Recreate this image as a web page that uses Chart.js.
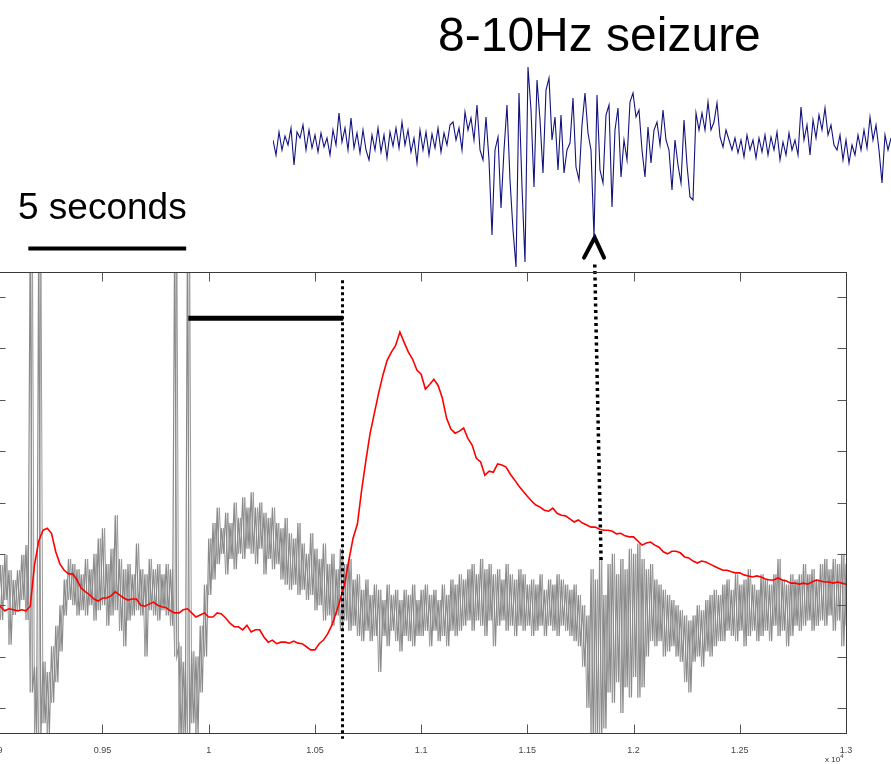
<!DOCTYPE html>
<html>
<head>
<meta charset="utf-8">
<script src="https://cdn.jsdelivr.net/npm/chart.js@4.4.0/dist/chart.umd.min.js"></script>
<style>
  body { margin: 0; width: 891px; height: 764px; overflow: hidden; background: #fff; position: relative; font-family: "Liberation Sans", Arial, sans-serif; }
  #lfpChart { position: absolute; left: -14px; top: 0; }
  #eegChart { position: absolute; left: 273px; top: 55px; }
  .label { position: absolute; color: #000; white-space: nowrap; }
</style>
</head>
<body>
<canvas id="lfpChart" width="905" height="764"></canvas>
<canvas id="eegChart" width="618" height="220"></canvas>
<div class="label" style="left:438px; top:11px; font-size:48px; line-height:48px;">8-10Hz seizure</div>
<div class="label" style="left:18px; top:188px; font-size:37px; line-height:37px;">5 seconds</div>
<div class="label" style="left:825px; top:751px; font-size:8px; line-height:10px; color:#333;">x 10<sup style="font-size:6px">4</sup></div>
<script>
// Axis ticks (x in units of 10^4 samples)
const xTickValues = [0.9, 0.95, 1, 1.05, 1.1, 1.15, 1.2, 1.25, 1.3];
const xTickLabels = ['0.9', '0.95', '1', '1.05', '1.1', '1.15', '1.2', '1.25', '1.3'];
const yTickValues = [0, 1, 2, 3, 4, 5, 6, 7, 8];

// Sampling of the two lower traces
const sampleStart = 0.9;
const sampleStep = 0.002;

// Gray LFP trace: upper and lower extent of the noise per sample
const grayHigh = [
  2.88, 2.78, 2.98, 2.68, 2.49, 2.68, 2.98, 3.17, 9.5, 0.8,
  9.5, 0.9, 0.7, 1.2, 1.6, 2.0, 2.5, 2.9, 2.8, 2.7,
  2.6, 2.9, 2.7, 3.0, 3.3, 3.5, 2.8, 3.1, 3.75, 2.9,
  2.7, 2.8, 2.6, 3.2, 2.7, 2.6, 2.9, 2.7, 2.8, 2.6,
  2.8, 2.7, 9.5, 1.2, 0.9, 9.5, 1.1, 1.0, 1.6, 2.4,
  3.3, 3.6, 3.9, 3.5, 3.8, 3.6, 4.0, 3.7, 4.1, 3.9,
  4.2, 3.9, 4.0, 3.8, 3.7, 3.9, 3.6, 3.5, 3.7, 3.4,
  3.3, 3.6, 3.2, 3.0, 3.4, 3.1, 2.9, 3.2, 2.8, 3.0,
  2.7, 3.1, 2.8, 2.9, 2.5, 2.6, 2.3, 2.5, 2.2, 2.4,
  2.3, 2.1, 2.4, 2.2, 2.3, 2.1, 2.3, 2.2, 2.4, 2.1,
  2.3, 2.4, 2.2, 2.3, 2.1, 2.4, 2.2, 2.5, 2.4, 2.6,
  2.5, 2.7, 2.8, 2.6, 2.9, 2.7, 2.8, 2.6, 2.7, 2.5,
  2.8, 2.6, 2.5, 2.7, 2.6, 2.4, 2.5, 2.4, 2.6, 2.3,
  2.5, 2.4, 2.6, 2.5, 2.4, 2.3, 2.4, 2.2, 2.0, 1.8,
  2.7, 2.5, 2.9, 2.2, 2.8, 3.0, 2.6, 2.9, 2.7, 3.1,
  3.0, 3.2, 2.9, 2.7, 2.8, 2.5, 2.4, 2.3, 2.2, 2.1,
  2.0, 1.9, 1.8, 1.7, 1.8, 2.0, 1.9, 2.1, 2.2, 2.3,
  2.2, 2.4, 2.5, 2.3, 2.6, 2.4, 2.5, 2.7, 2.4, 2.3,
  2.6, 2.5, 2.4, 2.6, 2.9, 2.5, 2.4, 2.6, 2.5, 2.6,
  2.8, 2.6, 2.7, 2.5, 2.8, 2.9, 2.7, 2.9, 2.8, 3.0,
  2.8
];
const grayLow = [
  1.91, 1.71, 2.10, 1.23, 1.81, 1.91, 2.10, 1.71, 0.3, -0.6,
  -0.6, -0.3, -0.5, 0.1, 0.5, 1.1, 1.8, 2.1, 2.0, 1.8,
  1.9, 1.8, 2.0, 1.7, 1.9, 2.0, 1.6, 1.8, 1.9, 1.5,
  1.2, 1.7, 1.8, 1.9, 1.8, 1.0, 1.9, 1.8, 1.7, 1.9,
  1.8, 1.6, 1.0, -0.6, -0.6, -0.6, -0.3, -0.5, 0.3, 1.0,
  2.2, 2.5, 2.8, 3.0, 2.6, 2.9, 2.7, 3.0, 2.9, 3.1,
  3.0, 2.8, 3.1, 2.6, 2.9, 2.7, 2.8, 2.5, 2.4, 2.3,
  2.4, 2.2, 2.3, 2.1, 2.2, 1.9, 2.0, 1.7, 1.8, 1.6,
  1.8, 1.5, 1.7, 1.5, 1.6, 1.4, 1.3, 1.5, 1.3, 1.4,
  0.7, 1.4, 1.2, 1.5, 1.3, 1.1, 1.4, 1.3, 1.2, 1.4,
  1.4, 1.5, 1.2, 1.5, 1.3, 1.4, 1.2, 1.5, 1.4, 1.5,
  1.6, 1.7, 1.5, 1.7, 1.6, 1.4, 1.7, 1.2, 1.6, 1.7,
  1.5, 1.6, 1.4, 1.6, 1.5, 1.6, 1.4, 1.5, 1.6, 1.4,
  1.6, 1.5, 1.4, 1.6, 1.5, 1.4, 1.3, 1.2, 0.8, 0.0,
  -0.6, -0.6, -0.6, -0.4, 0.3, 0.1, 0.5, -0.1, 0.4, 0.2,
  0.6, 0.2, 0.4, 1.0, 1.3, 1.2, 1.3, 1.0, 1.1, 1.2,
  1.0, 0.9, 0.5, 0.3, 0.9, 1.0, 0.8, 1.1, 1.0, 1.2,
  1.3, 1.3, 1.5, 1.4, 1.3, 1.5, 1.2, 1.4, 1.5, 1.3,
  1.4, 1.5, 1.3, 1.6, 1.4, 1.5, 1.2, 1.4, 1.6, 1.5,
  1.6, 1.7, 1.5, 1.6, 1.7, 1.6, 1.8, 1.5, 1.7, 1.2,
  1.6
];

// Red trace (same sampling)
const redTrace = [
  1.97, 1.97, 1.89, 1.93, 1.91, 1.89, 1.91, 1.89, 1.98, 2.78,
  3.25, 3.46, 3.50, 3.40, 3.04, 2.80, 2.68, 2.61, 2.61, 2.49,
  2.33, 2.26, 2.20, 2.12, 2.08, 2.14, 2.14, 2.18, 2.26, 2.20,
  2.14, 2.10, 2.12, 2.12, 2.00, 1.98, 2.02, 2.06, 2.00, 1.97,
  1.95, 1.89, 1.85, 1.85, 1.91, 1.93, 1.85, 1.77, 1.81, 1.85,
  1.77, 1.77, 1.85, 1.83, 1.75, 1.65, 1.58, 1.58, 1.52, 1.61,
  1.48, 1.52, 1.52, 1.38, 1.28, 1.32, 1.25, 1.28, 1.28, 1.26,
  1.30, 1.26, 1.25, 1.19, 1.13, 1.13, 1.25, 1.32, 1.44, 1.61,
  1.85, 2.12, 2.41, 2.88, 3.31, 3.58, 4.24, 4.82, 5.35, 5.74,
  6.13, 6.48, 6.77, 6.93, 7.06, 7.32, 7.12, 6.93, 6.79, 6.58,
  6.50, 6.21, 6.30, 6.40, 6.28, 6.03, 5.64, 5.43, 5.35, 5.39,
  5.45, 5.25, 5.12, 4.86, 4.79, 4.53, 4.61, 4.59, 4.75, 4.73,
  4.69, 4.55, 4.44, 4.32, 4.22, 4.12, 4.03, 3.95, 3.91, 3.85,
  3.83, 3.89, 3.79, 3.75, 3.74, 3.68, 3.62, 3.66, 3.60, 3.56,
  3.52, 3.52, 3.48, 3.46, 3.46, 3.44, 3.39, 3.40, 3.35, 3.33,
  3.33, 3.25, 3.17, 3.21, 3.23, 3.17, 3.13, 3.04, 3.00, 3.05,
  3.05, 3.02, 2.94, 2.92, 2.86, 2.82, 2.86, 2.84, 2.80, 2.76,
  2.72, 2.68, 2.68, 2.65, 2.63, 2.63, 2.59, 2.57, 2.55, 2.57,
  2.55, 2.51, 2.49, 2.49, 2.53, 2.49, 2.47, 2.43, 2.43, 2.41,
  2.43, 2.41, 2.45, 2.49, 2.47, 2.45, 2.45, 2.43, 2.45, 2.43,
  2.41
];

// Seizure EEG trace (one value per sample index)
const eegTrace = [
  0.5, -1.0, 1.3, -0.5, 0.9, 0.0, 1.7, -2.0, 1.3, 0.7,
  2.0, -0.5, 1.5, -0.3, 1.0, -0.7, 1.2, -0.2, 0.7, -1.0,
  1.5, 0.0, 3.2, 0.3, 1.7, -0.5, 2.7, -0.3, 1.2, -0.8,
  1.5, -0.5, -1.5, 1.0, -0.5, 1.7, -0.7, 1.0, -1.3, 1.3,
  -0.1, 1.7, -0.3, 2.3, 0.0, 1.5, -0.7, 0.7, -1.8, 1.5,
  -0.5, 1.3, -1.0, 1.1, -0.3, 1.7, -0.7, 1.2, 0.0, 2.0,
  2.3, 0.5, 1.7, -0.5, 3.3, 1.5, 2.7, 0.5, 4.0, -0.5,
  -1.5, 2.8, -1.5, -9.0, -0.5, 0.8, -6.3, -0.5, 4.0, -3.5,
  -8.5, -12.2, 5.2, -4.2, -11.7, 7.8, 3.5, -4.2, 6.5, 2.5,
  -2.8, 5.5, 6.7, 0.5, 2.8, -2.5, 3.0, -2.8, -0.5, 0.2,
  4.7, -2.2, -3.5, 2.0, 5.2, 1.2, -0.5, -9.2, 5.0, -2.5,
  -3.8, 3.0, 4.0, -6.2, 1.5, 3.7, -3.2, 0.5, -1.5, 4.3,
  5.2, 2.8, 3.5, -0.5, -3.2, 1.8, -1.8, 1.5, 2.3, 0.0,
  3.5, 0.5, -0.5, -4.5, 0.5, -2.0, -3.8, 2.5, -2.0, -5.2,
  -5.5, 3.2, 1.5, 3.2, 1.5, 4.3, 1.5, 2.3, 4.2, 0.8,
  -0.2, 1.5, 0.5, -0.5, 0.7, -0.8, 0.5, -1.2, 1.0, -0.5,
  0.5, -1.3, 0.7, -0.7, 1.0, -1.0, 0.8, -0.5, 1.3, -1.5,
  0.3, -1.0, 1.2, -0.5, 0.5, -1.0, 3.8, 0.5, 2.0, -1.0,
  2.5, 0.7, 3.0, 1.5, 3.7, 1.0, 2.0, 0.0, -0.5, 1.0,
  -1.5, 0.5, -1.8, 0.0, -1.0, 1.0, -0.5, 1.5, -0.3, 2.8,
  0.5, 2.0, -0.5, -3.8, 1.0, -0.5, 0.7
];

// Annotations, in the same data units as the lower plot
const scaleBarX = [0.9151, 0.9894];
const scaleBarY = 8.95;
const stimBarX = [0.9904, 1.0633];
const stimBarY = 7.59;
const onsetLineX = 1.063;
const onsetLineY = [8.33, -0.6];
const arrowShaftX = [1.1847, 1.1817];
const arrowShaftY = [2.88, 8.68];
const arrowHeadX = [1.1767, 1.1817, 1.1861];
const arrowHeadY = [8.77, 9.16, 8.77];

const fontFamily = '"Liberation Sans", Arial, sans-serif';

// Build point lists from the arrays: the noise band is traced twice,
// once high-to-low and once low-to-high, so the strokes cross like dense noise
const grayPointsA = [];
const grayPointsB = [];
grayHigh.forEach((v, i) => {
  const x0 = sampleStart + i * sampleStep;
  const x1 = sampleStart + (i + 0.5) * sampleStep;
  grayPointsA.push({ x: x0, y: v }, { x: x1, y: grayLow[i] });
  grayPointsB.push({ x: x0, y: grayLow[i] }, { x: x1, y: v });
});
const redPoints = redTrace.map((v, i) => ({ x: sampleStart + i * sampleStep, y: v }));
const eegPoints = eegTrace.map((v, i) => ({ x: i, y: v }));

function segment(xs, ys) {
  return xs.map((x, i) => ({ x: x, y: Array.isArray(ys) ? ys[i] : ys }));
}

// Box and inward ticks, MATLAB style
const frameAndTicks = {
  id: 'frameAndTicks',
  afterDraw(chart) {
    const { ctx, chartArea: a, scales } = chart;
    const l = Math.round(a.left) + 0.5, r = Math.round(a.right) + 0.5;
    const t = Math.round(a.top) + 0.5, b = Math.round(a.bottom) + 0.5;
    ctx.save();
    ctx.lineWidth = 1;
    ctx.strokeStyle = '#555';
    ctx.beginPath();
    xTickValues.forEach(v => {
      const px = Math.round(scales.x.getPixelForValue(v)) + 0.5;
      ctx.moveTo(px, b); ctx.lineTo(px, b - 9);
      ctx.moveTo(px, t); ctx.lineTo(px, t + 9);
    });
    yTickValues.forEach(v => {
      const py = Math.round(scales.y.getPixelForValue(v)) + 0.5;
      ctx.moveTo(l, py); ctx.lineTo(l + 9, py);
      ctx.moveTo(r, py); ctx.lineTo(r - 9, py);
    });
    ctx.stroke();
    ctx.strokeStyle = '#3a3a3a';
    ctx.strokeRect(l, t, r - l, b - t);
    ctx.restore();
  }
};

new Chart(document.getElementById('lfpChart'), {
  type: 'line',
  data: {
    datasets: [
      { data: [{ x: onsetLineX, y: onsetLineY[0] }, { x: onsetLineX, y: onsetLineY[1] }],
        borderColor: '#000', borderWidth: 3, borderDash: [3, 3], borderCapStyle: 'butt', clip: false },
      { data: segment(arrowShaftX, arrowShaftY),
        borderColor: '#000', borderWidth: 3.5, borderDash: [3, 3.5], borderCapStyle: 'butt', clip: false },
      { data: segment(arrowHeadX, arrowHeadY),
        borderColor: '#000', borderWidth: 4, borderJoinStyle: 'miter', borderCapStyle: 'round', clip: false },
      { data: segment(stimBarX, stimBarY), borderColor: '#000', borderWidth: 5, clip: false },
      { data: segment(scaleBarX, scaleBarY), borderColor: '#000', borderWidth: 4, clip: false },
      { data: redPoints, borderColor: '#ff0000', borderWidth: 1.6 },
      { data: grayPointsA, borderColor: '#8a8a8a', borderWidth: 1.2 },
      { data: grayPointsB, borderColor: '#9a9a9a', borderWidth: 1 }
    ]
  },
  options: {
    responsive: false,
    animation: false,
    events: [],
    elements: { point: { radius: 0 }, line: { tension: 0 } },
    layout: { padding: { left: 10, right: 45, top: 272, bottom: 0 } },
    plugins: { legend: { display: false }, tooltip: { enabled: false } },
    scales: {
      x: {
        type: 'linear',
        min: 0.9,
        max: 1.3,
        grid: { display: false },
        border: { display: false },
        afterBuildTicks: s => { s.ticks = xTickValues.map(v => ({ value: v })); },
        afterFit: s => { s.height = 31; },
        ticks: {
          autoSkip: false,
          maxRotation: 0,
          padding: 4,
          color: '#444',
          font: { size: 9, family: fontFamily },
          callback: (v, i) => xTickLabels[i]
        }
      },
      y: { display: false, min: -0.49, max: 8.49 }
    }
  },
  plugins: [frameAndTicks]
});

new Chart(document.getElementById('eegChart'), {
  type: 'line',
  data: {
    datasets: [{ data: eegPoints, borderColor: '#12127e', borderWidth: 1.1 }]
  },
  options: {
    responsive: false,
    animation: false,
    events: [],
    elements: { point: { radius: 0 }, line: { tension: 0 } },
    layout: { padding: 0 },
    plugins: { legend: { display: false }, tooltip: { enabled: false } },
    scales: {
      x: { type: 'linear', display: false, min: 0, max: eegTrace.length - 1 },
      y: { display: false, min: -13, max: 9 }
    }
  }
});
</script>
</body>
</html>
